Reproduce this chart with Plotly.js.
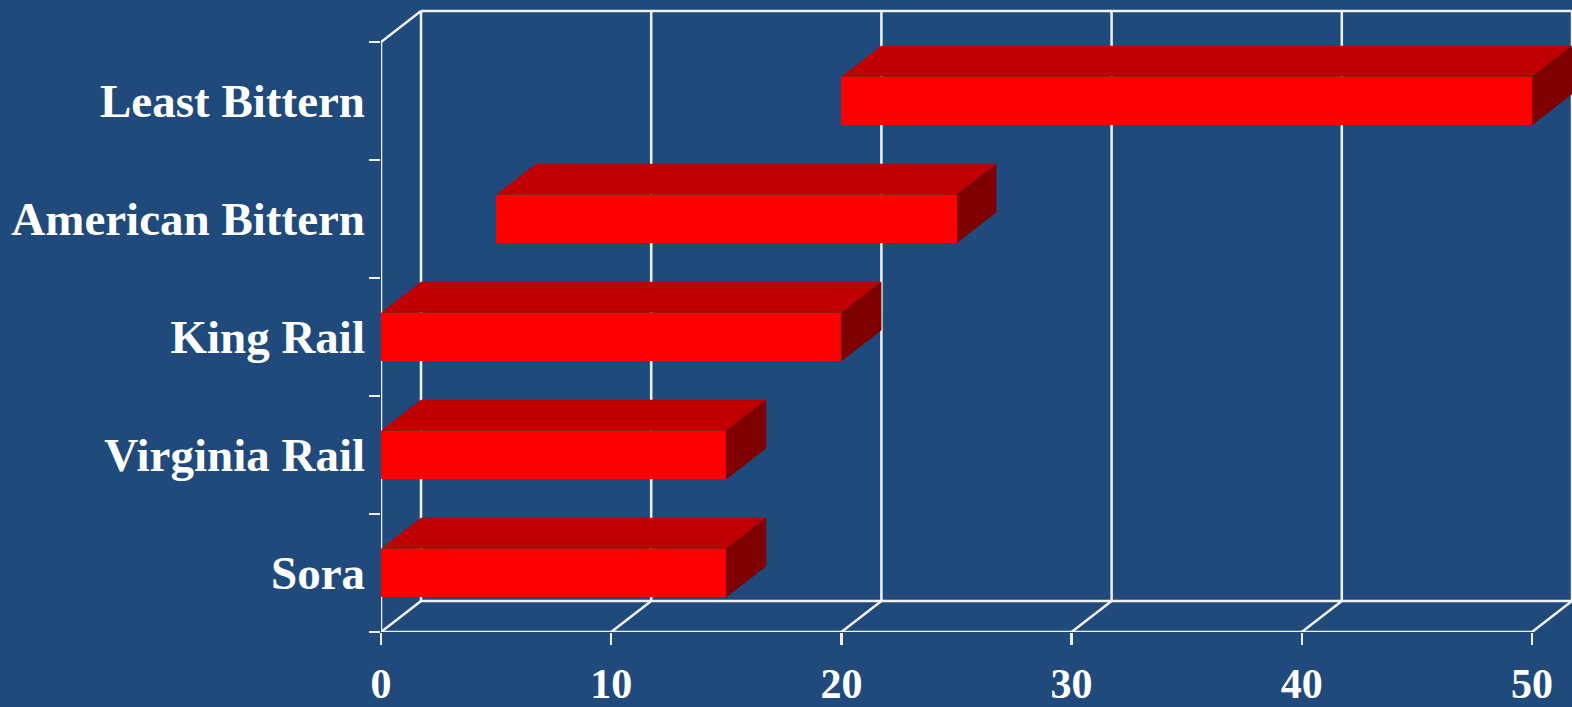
<!DOCTYPE html>
<html>
<head>
<meta charset="utf-8">
<script src="https://cdn.plot.ly/plotly-3.0.1.min.js"></script>
<style>
  html, body { margin: 0; padding: 0; background: #214A7C; }
  #chart { width: 1572px; height: 707px; }
</style>
</head>
<body>
<div id="chart"></div>
<script>
// Species, bottom row first
const species = ['Sora', 'Virginia Rail', 'King Rail', 'American Bittern', 'Least Bittern'];
// Range of each bar along the value axis
const rangeStart = [0, 0, 0, 5, 20];
const rangeEnd = [15, 15, 20, 25, 50];
// Value-axis ticks
const xTicks = [0, 10, 20, 30, 40, 50];
const xTickLabels = ['0', '10', '20', '30', '40', '50'];

// Page geometry
const W = 1572, H = 707;
const M = { l: 381, r: 0, t: 8, b: 75 };
const PX_PER_X = 23.02;   // pixels per value unit
const PX_PER_ROW = 118;   // pixels per category row
const plotW = W - M.l - M.r;
const plotH = H - M.t - M.b;
const xRange = [0, plotW / PX_PER_X];
const yRange = [-0.5, -0.5 + plotH / PX_PER_ROW];

// Depth of the pseudo-3D box, converted into axis units
const DX = 40 / PX_PER_X;
const DY = 31 / PX_PER_ROW;
const BAR_W = 0.41;

const GRID = '#F2F2F2';
const FRONT = '#FF0000', TOP = '#C00000', SIDE = '#7F0000';

const yLo = -0.5, yHi = species.length - 0.5;
const xMax = xTicks[xTicks.length - 1];

function line(x0, y0, x1, y1) {
  return { type: 'line', xref: 'x', yref: 'y', x0, y0, x1, y1, layer: 'below',
           line: { color: GRID, width: 2.5 } };
}

const shapes = [];
// back wall and floor
xTicks.forEach(v => {
  shapes.push(line(v + DX, yLo + DY, v + DX, yHi + DY));
  shapes.push(line(v, yLo, v + DX, yLo + DY));
});
shapes.push(line(DX, yLo + DY, xMax + DX, yLo + DY));
shapes.push(line(DX, yHi + DY, xMax + DX, yHi + DY));
shapes.push(line(0, yHi, DX, yHi + DY));
shapes.push(line(0, yLo, 0, yHi));
shapes.push(line(0, yLo, xMax, yLo));

// top and end faces of each bar
species.forEach((s, i) => {
  const a = rangeStart[i], b = rangeEnd[i];
  const yt = i + BAR_W / 2, yb = i - BAR_W / 2;
  shapes.push({
    type: 'path', xref: 'x', yref: 'y', layer: 'below',
    path: `M ${a},${yt} L ${b},${yt} L ${b + DX},${yt + DY} L ${a + DX},${yt + DY} Z`,
    fillcolor: TOP, line: { width: 0 }
  });
  shapes.push({
    type: 'path', xref: 'x', yref: 'y', layer: 'below',
    path: `M ${b},${yb} L ${b + DX},${yb + DY} L ${b + DX},${yt + DY} L ${b},${yt} Z`,
    fillcolor: SIDE, line: { width: 0 }
  });
});

const bars = {
  type: 'bar',
  orientation: 'h',
  y: species.map((s, i) => i),
  x: species.map((s, i) => rangeEnd[i] - rangeStart[i]),
  base: rangeStart,
  width: BAR_W,
  marker: { color: FRONT, line: { width: 0 } },
  hoverinfo: 'skip'
};

const labelFont = { family: 'Liberation Serif, Times New Roman, serif', color: '#FFFFFF', weight: 700 };

const layout = {
  width: W, height: H,
  margin: M,
  paper_bgcolor: '#214A7C',
  plot_bgcolor: '#214A7C',
  showlegend: false,
  bargap: 0,
  xaxis: {
    range: xRange, fixedrange: true,
    tickmode: 'array', tickvals: xTicks, ticktext: xTickLabels,
    ticks: 'outside', ticklen: 12, tickwidth: 2.5, tickcolor: GRID,
    showgrid: false, zeroline: false, showline: false,
    tickfont: Object.assign({ size: 42 }, labelFont),
    ticklabelstandoff: 3
  },
  yaxis: {
    range: yRange, fixedrange: true,
    tickmode: 'array', tickvals: species.map((s, i) => i), ticktext: species,
    ticks: '', showgrid: false, zeroline: false, showline: false,
    tickfont: Object.assign({ size: 47 }, labelFont),
    ticklabelstandoff: 15,
    minor: {
      tickmode: 'array',
      tickvals: species.map((s, i) => i - 0.5).concat([yHi]),
      ticks: 'outside', ticklen: 11, tickwidth: 2.5, tickcolor: GRID, showgrid: false
    }
  },
  shapes: shapes
};

Plotly.newPlot('chart', [bars], layout, { staticPlot: true });
</script>
</body>
</html>
